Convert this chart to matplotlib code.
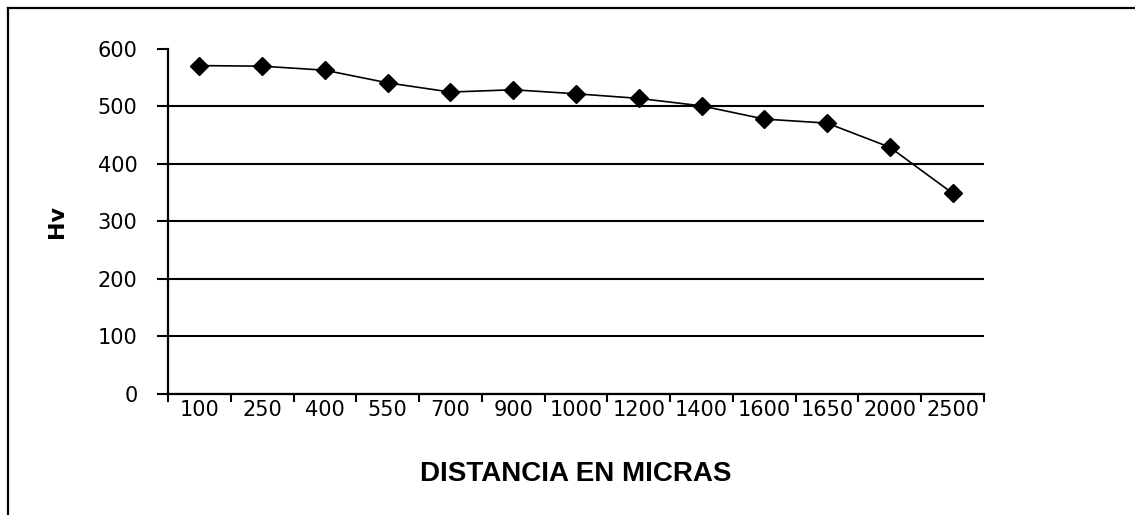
import numpy as np
import matplotlib.pyplot as plt
from matplotlib.lines import Line2D

# Microhardness profile across the sample
distances = ["100", "250", "400", "550", "700", "900", "1000", "1200",
             "1400", "1600", "1650", "2000", "2500"]
hardness = [571, 570, 563, 541, 525, 529, 522, 514, 501, 478, 471, 429, 349]
y_ticks = [0, 100, 200, 300, 400, 500, 600]

plt.rcParams['font.family'] = ['DejaVu Sans']

fig = plt.figure(figsize=(11.35, 5.15), dpi=100)
ax = fig.add_axes([0.148, 0.235, 0.719, 0.670])

x = np.arange(len(distances))
ax.plot(x, hardness, color='black', linewidth=1.2, marker='D',
        markersize=9, markerfacecolor='black', markeredgecolor='black', zorder=3)

ax.set_xlim(-0.5, len(distances) - 0.5)
ax.set_ylim(0, 600)

# category labels in the middle, tick marks on the boundaries
ax.set_xticks(x)
ax.set_xticklabels(distances, fontsize=15)
ax.tick_params(axis='x', which='major', length=0, pad=4)
ax.set_xticks(np.arange(-0.5, len(distances)), minor=True)
ax.tick_params(axis='x', which='minor', length=6, width=1.5, color='black')

ax.set_yticks(y_ticks)
ax.set_yticklabels([str(v) for v in y_ticks], fontsize=15)
ax.tick_params(axis='y', length=8, width=1.5, pad=14, color='black')

ax.grid(axis='y', color='black', linewidth=1.5)
ax.get_ygridlines()[-1].set_visible(False)
ax.set_axisbelow(True)

for side in ['top', 'right']:
    ax.spines[side].set_visible(False)
for side in ['left', 'bottom']:
    ax.spines[side].set_linewidth(1.6)
    ax.spines[side].set_color('black')

ax.set_ylabel('Hv', fontsize=16, fontweight='bold', labelpad=22)
ax.set_xlabel('DISTANCIA EN MICRAS', fontsize=20, fontweight='bold',
              family='Liberation Sans', labelpad=30)

# chart area frame (top and left edges)
fig.add_artist(Line2D([0.007, 1.0], [0.984, 0.984], color='black', linewidth=1.6,
                      transform=fig.transFigure))
fig.add_artist(Line2D([0.007, 0.007], [0.0, 0.984], color='black', linewidth=1.6,
                      transform=fig.transFigure))

fig.savefig('out.png', dpi=100)
